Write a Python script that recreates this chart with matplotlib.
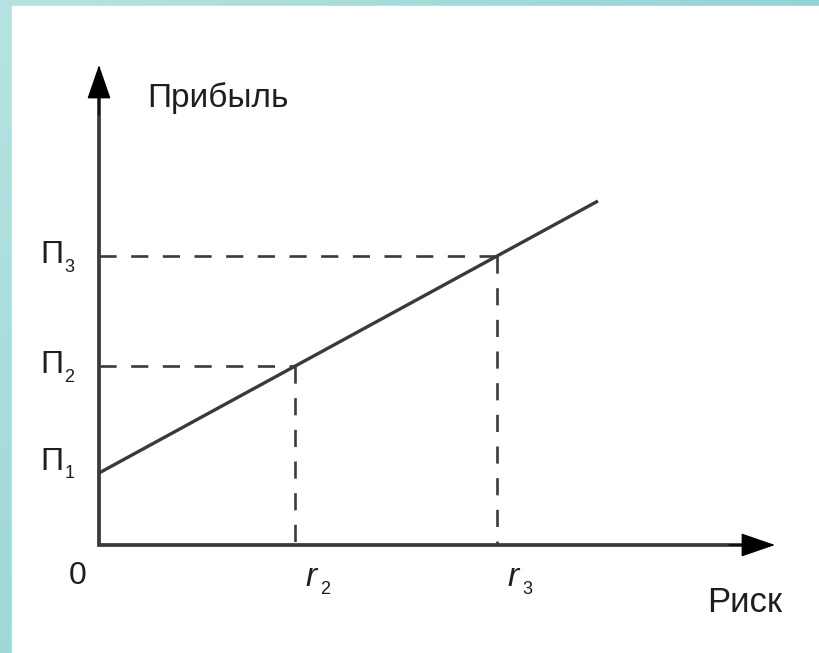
import numpy as np
import matplotlib.pyplot as plt
from matplotlib.colors import LinearSegmentedColormap
from matplotlib.patches import Rectangle

# данные графика (условные единицы: 1 = 100 px)
risk_labels = ['r', 'r']
risk_subs = ['2', '3']
risk_values = [1.96, 3.98]
profit_subs = ['1', '2', '3']
profit_values = [0.72, 1.79, 2.89]
line_x = [0.0, 4.99]
line_y = [0.72, 3.44]

W, H = 819, 653
x0, y0 = 99, 545   # начало координат в пикселях
scale = 100.0

fig = plt.figure(figsize=(W / 100, H / 100), dpi=100)

# фон: бирюзовая рамка с градиентом
bg = fig.add_axes([0, 0, 1, 1])
bg.set_axis_off()
gx, gy = np.meshgrid(np.linspace(0, 1, 200), np.linspace(0, 1, 200))
grad = 0.6 * gx + 0.4 * gy
cmap = LinearSegmentedColormap.from_list('teal', ['#b6e3e1', '#7ccaca'])
bg.imshow(grad, cmap=cmap, aspect='auto', extent=[0, 1, 0, 1], origin='upper')
bg.add_patch(Rectangle((12 / W, 0), 1, 1 - 6 / H, color='white', transform=bg.transAxes))
bg.set_xlim(0, 1)
bg.set_ylim(0, 1)

ax = fig.add_axes([0, 0, 1, 1])
ax.set_axis_off()
ax.set_xlim(-x0 / scale, (W - x0) / scale)
ax.set_ylim(-(H - y0) / scale, y0 / scale)

axis_col = '#3a3a3a'
text_col = '#1e1e1e'

# оси: серые линии и чёрные наконечники
ax.plot([0, 0, 6.5], [4.6, 0, 0], color=axis_col, lw=2.7, solid_joinstyle='miter')
head = dict(arrowstyle='-|>,head_length=1.1,head_width=0.38', color='black',
            lw=1.0, shrinkA=0, shrinkB=0, mutation_scale=20)
ax.annotate('', xy=(0, 4.80), xytext=(0, 4.3), arrowprops=head)
ax.annotate('', xy=(6.76, 0), xytext=(6.3, 0), arrowprops=head)

# прямая зависимости прибыли от риска
ax.plot(line_x, line_y, color=axis_col, lw=2.4, solid_capstyle='butt')

# пунктирные проекции
dash = (0, (6.5, 5.5))
for xv, yv in zip(risk_values, profit_values[1:]):
    ax.plot([0, xv], [yv, yv], color=axis_col, lw=1.9, linestyle=dash)
    ax.plot([xv, xv], [yv, 0], color=axis_col, lw=1.9, linestyle=dash)

# подписи по оси Y
for sub, yv in zip(profit_subs, profit_values):
    yt = yv + (0.11 if sub == '1' else 0.01)
    ax.text(-0.585, yt, 'П', fontsize=23, family='Liberation Sans', color=text_col,
            ha='left', va='center')
    ax.text(-0.345, yt - 0.12, sub, fontsize=13, family='Liberation Sans', color=text_col,
            ha='left', va='center')

# подписи по оси X
for lab, sub, xv in zip(risk_labels, risk_subs, risk_values):
    ax.text(xv + 0.10, -0.33, lab, fontsize=24, family='Liberation Sans', style='italic',
            color=text_col, ha='left', va='center')
    ax.text(xv + 0.25, -0.45, sub, fontsize=13, family='Liberation Sans',
            color=text_col, ha='left', va='center')

ax.text(-0.21, -0.31, '0', fontsize=23, family='Liberation Sans', color=text_col,
        ha='center', va='center')
ax.text(0.48, 4.47, 'Прибыль', fontsize=24, family='Liberation Sans', color=text_col,
        ha='left', va='center')
ax.text(6.08, -0.58, 'Риск', fontsize=25, family='Liberation Sans', color=text_col,
        ha='left', va='center')

fig.savefig('out.png', dpi=100)
